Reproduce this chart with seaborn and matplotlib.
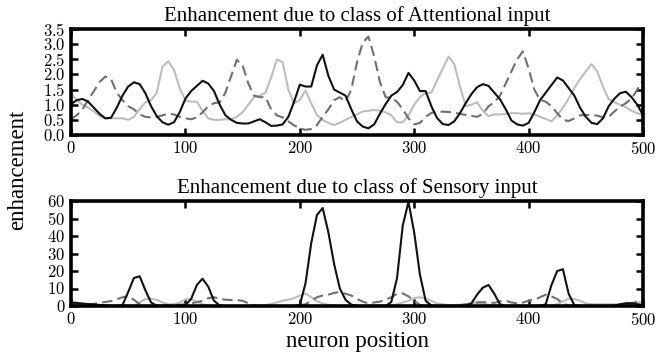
import numpy as np
import pandas as pd
import matplotlib
matplotlib.use("Agg")
import matplotlib.pyplot as plt
import seaborn as sns
from matplotlib.ticker import FuncFormatter

# neuron positions (every 5 neurons)
positions = list(range(0, 501, 5))

# ---- Attentional input (top panel) ----
att_black = [1.02, 1.15, 1.19, 1.10, 0.90, 0.70, 0.55, 0.57, 0.90, 1.30,
             1.60, 1.74, 1.68, 1.38, 0.95, 0.62, 0.42, 0.34, 0.42, 0.75,
             1.20, 1.45, 1.62, 1.79, 1.70, 1.45, 1.00, 0.65, 0.50, 0.40,
             0.38, 0.38, 0.45, 0.52, 0.42, 0.30, 0.31, 0.35, 0.60, 1.10,
             1.66, 1.60, 1.60, 2.30, 2.65, 1.95, 1.50, 1.40, 1.30, 0.85,
             0.45, 0.28, 0.22, 0.35, 0.70, 1.02, 1.30, 1.42, 1.65, 2.05,
             1.80, 1.45, 1.45, 0.95, 0.56, 0.36, 0.33, 0.45, 0.72, 1.05,
             1.35, 1.58, 1.68, 1.62, 1.40, 1.18, 0.85, 0.48, 0.35, 0.31,
             0.40, 0.75, 1.15, 1.40, 1.65, 1.90, 1.80, 1.55, 1.30, 0.90,
             0.60, 0.40, 0.36, 0.55, 0.95, 1.20, 1.38, 1.43, 1.25, 1.00,
             0.66]
att_dashed = [0.52, 0.65, 0.85, 1.15, 1.45, 1.75, 1.93, 1.85, 1.40, 1.15,
              0.95, 0.85, 0.68, 0.60, 0.58, 0.60, 0.65, 0.70, 0.68, 0.60,
              0.55, 0.52, 0.58, 0.75, 0.95, 1.05, 1.08, 1.40, 1.95, 2.48,
              2.30, 1.70, 1.30, 1.25, 1.25, 0.85, 0.65, 0.58, 0.45, 0.32,
              0.22, 0.17, 0.20, 0.33, 0.60, 0.85, 1.15, 1.25, 1.10, 1.50,
              2.40, 3.05, 3.25, 2.60, 1.75, 1.25, 1.22, 1.10, 0.85, 0.55,
              0.35, 0.40, 0.60, 0.73, 0.77, 0.77, 0.76, 0.74, 0.70, 0.66,
              0.63, 0.60, 0.70, 0.95, 1.08, 1.30, 1.70, 2.10, 2.50, 2.76,
              2.20, 1.50, 1.16, 1.10, 0.95, 0.72, 0.50, 0.46, 0.55, 0.65,
              0.66, 0.66, 0.64, 0.58, 0.60, 0.78, 0.94, 1.05, 1.20, 1.50,
              1.82]
att_light = [1.38, 1.15, 1.00, 0.90, 0.78, 0.62, 0.55, 0.55, 0.55, 0.55,
             0.50, 0.60, 0.85, 1.08, 1.15, 1.40, 2.26, 2.43, 2.15, 1.55,
             1.15, 1.10, 1.10, 0.80, 0.55, 0.50, 0.50, 0.52, 0.52, 0.60,
             0.75, 1.00, 1.25, 1.30, 1.40, 1.90, 2.50, 2.40, 1.49, 1.05,
             1.16, 1.47, 1.05, 0.66, 0.50, 0.40, 0.33, 0.40, 0.50, 0.60,
             0.68, 0.78, 0.80, 0.83, 0.80, 0.75, 0.65, 0.42, 0.42, 0.65,
             1.00, 1.25, 1.38, 1.40, 1.80, 2.20, 2.59, 2.35, 1.60, 0.95,
             1.00, 1.08, 0.80, 0.62, 0.68, 0.68, 0.70, 0.72, 0.72, 0.70,
             0.72, 0.68, 0.60, 0.53, 0.45, 0.65, 0.90, 1.20, 1.55, 1.85,
             2.10, 2.34, 2.10, 1.60, 1.18, 1.08, 1.00, 0.92, 0.80, 0.72,
             0.66]

# ---- Sensory input (bottom panel) ----
sen_black = [2.0, 1.7, 1.4, 1.1, 0.9, 0.6, 0.3, 0.1, 0.0, 0.5,
             8.0, 16.0, 17.0, 9.0, 2.0, 0.2, 0.0, 0.0, 0.0, 0.0,
             0.5, 4.0, 12.0, 15.6, 11.0, 3.0, 0.3, 0.0, 0.0, 0.0,
             0.0, 0.0, 0.0, 0.0, 0.0, 0.0, 0.0, 0.0, 0.0, 0.0,
             0.5, 13.0, 36.0, 52.0, 56.0, 42.0, 24.0, 10.0, 3.5, 0.8,
             0.0, 0.0, 0.0, 0.0, 0.0, 0.0, 2.3, 16.0, 46.0, 59.5,
             42.0, 18.0, 3.0, 0.3, 0.0, 0.0, 0.0, 0.0, 0.0, 0.0,
             1.5, 6.5, 10.5, 12.0, 7.0, 1.0, 0.0, 0.0, 0.0, 0.0,
             0.0, 0.0, 0.0, 1.0, 12.0, 20.0, 21.0, 7.0, 0.5, 0.0,
             0.0, 0.0, 0.0, 0.0, 0.0, 0.3, 1.0, 1.6, 1.6, 1.0,
             0.6]
sen_dashed = [1.0, 1.0, 1.0, 1.0, 1.2, 1.8, 2.3, 2.8, 3.8, 5.0,
              5.7, 3.5, 1.2, 0.2, 0.0, 0.0, 0.3, 0.5, 0.5, 0.7,
              1.0, 1.5, 2.2, 3.0, 4.5, 5.0, 4.2, 3.6, 3.4, 3.4,
              3.0, 1.5, 0.5, 0.0, 0.0, 0.0, 0.0, 0.0, 0.0, 0.0,
              0.3, 1.0, 3.0, 5.0, 6.0, 6.5, 7.5, 8.0, 7.0, 6.0,
              4.0, 2.5, 1.5, 2.0, 2.5, 3.5, 5.0, 7.0, 7.2, 5.5,
              3.0, 0.6, 0.0, 0.0, 0.0, 0.0, 0.0, 0.0, 0.5, 1.0,
              1.5, 2.0, 2.2, 2.0, 1.8, 2.7, 3.0, 2.0, 1.5, 2.0,
              3.0, 3.5, 5.0, 6.5, 5.5, 4.0, 1.5, 0.2, 0.0, 0.0,
              0.0, 0.0, 0.0, 0.0, 0.0, 0.0, 0.0, 1.0, 1.5, 2.5,
              3.0]
sen_light = [2.5, 2.0, 1.3, 0.8, 0.5, 0.3, 0.2, 0.2, 0.2, 0.2,
             0.2, 0.3, 2.0, 4.0, 4.2, 3.5, 2.0, 1.0, 1.0, 2.0,
             3.8, 4.0, 2.5, 1.0, 0.3, 0.0, 0.0, 0.0, 0.0, 0.0,
             0.0, 0.0, 0.0, 0.0, 0.5, 1.2, 2.0, 3.0, 3.6, 4.5,
             6.0, 7.0, 5.0, 2.7, 1.5, 0.7, 0.2, 0.0, 0.0, 0.0,
             0.0, 0.0, 0.2, 0.3, 0.3, 0.4, 0.5, 1.0, 2.0, 3.0,
             4.5, 5.0, 4.3, 3.0, 1.5, 1.0, 0.5, 0.5, 0.7, 1.0,
             1.5, 2.0, 1.5, 0.7, 0.5, 0.3, 0.2, 0.2, 0.2, 0.2,
             0.2, 0.2, 0.2, 0.2, 0.2, 1.0, 2.5, 4.2, 4.0, 3.0,
             1.5, 1.0, 1.0, 1.0, 1.0, 1.0, 1.0, 1.0, 1.0, 2.0,
             2.3]

titles = ["Enhancement due to class of Attentional input",
          "Enhancement due to class of Sensory input"]
top_yticks = [0.0, 0.5, 1.0, 1.5, 2.0, 2.5, 3.0, 3.5]
bottom_yticks = [0, 10, 20, 30, 40, 50, 60]
xticks = [0, 100, 200, 300, 400, 500]

sns.set_style("ticks")
plt.rcParams["font.family"] = ["Liberation Serif", "DejaVu Serif"]
plt.rcParams["mathtext.fontset"] = "cm"
plt.rcParams["text.color"] = "black"
plt.rcParams["axes.edgecolor"] = "black"
plt.rcParams["xtick.color"] = "black"
plt.rcParams["ytick.color"] = "black"

fig = plt.figure(figsize=(6.7, 3.59), dpi=100)
ax1 = fig.add_axes([71 / 670, 1 - 135 / 359, 572 / 670, 106 / 359])
ax2 = fig.add_axes([71 / 670, 1 - 306 / 359, 572 / 670, 105 / 359])

styles = [dict(color="#111111", linestyle="-", linewidth=1.5),
          dict(color="#707070", linestyle=(0, (5, 2.5)), linewidth=1.5),
          dict(color="#bdbdbd", linestyle="-", linewidth=1.5)]

panels = [(ax1, [att_light, att_dashed, att_black], top_yticks, 3.5, "%.1f"),
          (ax2, [sen_light, sen_dashed, sen_black], bottom_yticks, 60, "%d")]

for (ax, series, yt, ymax, fmt), title in zip(panels, titles):
    order = [2, 1, 0]  # light, dashed, black drawn in that order
    for vals, si in zip(series, order):
        sns.lineplot(x=positions, y=vals, ax=ax, **styles[si])
    ax.set_xlim(0, 500)
    ax.set_ylim(0, ymax)
    ax.set_xticks(xticks)
    ax.set_yticks(yt)
    ax.xaxis.set_major_formatter(FuncFormatter(lambda v, p: r"$%d$" % v))
    ax.yaxis.set_major_formatter(FuncFormatter(lambda v, p, f=fmt: r"$%s$" % (f % v)))
    ax.tick_params(direction="in", length=5, width=1.8, top=True, right=True,
                   labelsize=12, pad=4, colors="black")
    for sp in ax.spines.values():
        sp.set_linewidth(2.6)
        sp.set_color("black")
        sp.set_visible(True)
    ax.set_xlabel("")
    ax.set_ylabel("")
    ax.set_title(title, fontsize=15, pad=6)

fig.text(357 / 670, 1 - 342 / 359, "neuron position", ha="center", va="center", fontsize=16.5)
fig.text(18 / 670, 1 - 170 / 359, "enhancement", ha="center", va="center",
         rotation=90, fontsize=16.5)

fig.savefig("out.png", dpi=100)
